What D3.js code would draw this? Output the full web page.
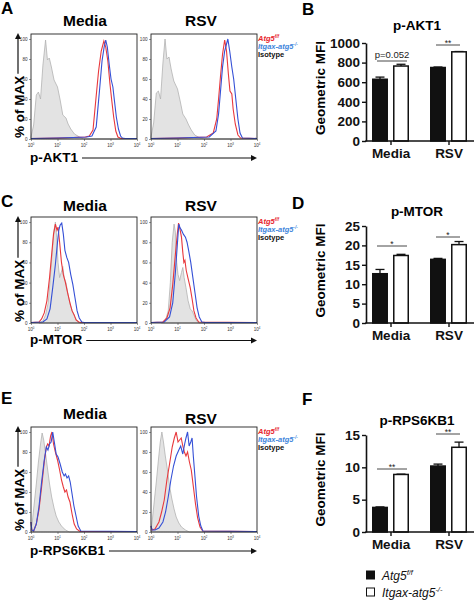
<!DOCTYPE html>
<html><head><meta charset="utf-8">
<script src="https://cdn.jsdelivr.net/npm/d3@7"></script>
<style>body{margin:0;background:#fff}svg{display:block;font-family:"Liberation Sans",Arial,Helvetica,sans-serif}</style>
</head><body><svg id="c" width="474" height="601"></svg>
<script>
// ---------- DATA ----------
const groups = ["Media", "RSV"];
const genotypes = ["Atg5f/f", "Itgax-atg5-/-"];
const pctTicks = [0, 20, 40, 60, 80, 100];
const decadeTicks = [0, 1, 2, 3, 4];

// histogram curves: [log10 intensity, % of max]
const aktMediaIso = [[0,2],[0.1,14],[0.2,44],[0.28,47],[0.36,40],[0.45,74],[0.55,99],[0.62,79],[0.69,81],[0.77,72],[0.87,59],[1.0,52],[1.1,39],[1.2,24],[1.32,21],[1.4,15],[1.5,10],[1.64,5],[1.83,2],[1.98,0],[4,0]];
const aktMediaAtg5 = [[0,0.5],[1.0,1],[1.6,1.5],[2.05,2],[2.2,3],[2.34,9],[2.46,43],[2.55,68],[2.65,88],[2.75,98],[2.82,92],[2.9,78],[2.98,55],[3.05,38],[3.12,22],[3.2,8],[3.28,2],[3.4,0.5],[4,0.5]];
const aktMediaItgax = [[0,0.5],[1.0,1],[1.6,1.5],[2.1,2],[2.3,3],[2.46,12],[2.59,50],[2.68,78],[2.76,92],[2.82,99],[2.88,92],[2.95,75],[3.02,60],[3.09,52],[3.15,38],[3.22,22],[3.3,10],[3.38,3],[3.45,1],[3.55,0.5],[4,0.5]];
const aktRsvIso = [[0,2],[0.1,16],[0.2,46],[0.28,48],[0.36,40],[0.45,76],[0.53,100],[0.6,80],[0.68,82],[0.76,70],[0.86,58],[1.0,50],[1.1,38],[1.2,25],[1.32,20],[1.42,14],[1.52,9],[1.65,4],[1.85,1],[2.0,0],[4,0]];
const aktRsvAtg5 = [[0,0.5],[1.0,1],[1.6,1.5],[2.1,2],[2.35,6],[2.48,20],[2.55,40],[2.62,62],[2.7,85],[2.78,99],[2.85,88],[2.92,65],[2.98,48],[3.05,45],[3.1,30],[3.18,15],[3.28,4],[3.38,1],[4,0.5]];
const aktRsvItgax = [[0,0.5],[1.0,1],[1.6,1.5],[2.2,2],[2.45,8],[2.55,25],[2.63,50],[2.7,72],[2.78,88],[2.85,95],[2.9,100],[2.97,88],[3.05,72],[3.12,60],[3.2,40],[3.28,20],[3.36,6],[3.45,1],[4,0.5]];

const mtorMediaIso = [[0.3,0],[0.45,2],[0.55,8],[0.65,20],[0.72,42],[0.8,70],[0.87,92],[0.92,100],[0.97,85],[1.02,60],[1.08,45],[1.14,50],[1.2,56],[1.25,45],[1.32,40],[1.4,28],[1.48,18],[1.56,12],[1.65,6],[1.75,2],[1.85,0],[4,0]];
const mtorMediaAtg5 = [[0,0.5],[0.3,1],[0.4,4],[0.5,10],[0.6,22],[0.7,45],[0.78,68],[0.85,88],[0.92,98],[0.98,92],[1.02,95],[1.08,80],[1.15,60],[1.22,48],[1.3,40],[1.38,30],[1.47,20],[1.55,12],[1.63,8],[1.7,3],[1.8,1],[1.9,0.5],[4,0.5]];
const mtorMediaItgax = [[0,0.5],[0.45,1],[0.6,4],[0.72,14],[0.82,35],[0.92,58],[1.0,80],[1.05,92],[1.1,97],[1.16,99],[1.22,88],[1.28,72],[1.35,65],[1.42,60],[1.5,48],[1.58,38],[1.66,25],[1.74,12],[1.82,5],[1.92,1],[2.0,0.5],[4,0.5]];
const mtorRsvIso = [[0.4,0],[0.55,3],[0.65,12],[0.73,40],[0.8,80],[0.87,98],[0.92,90],[0.97,60],[1.02,48],[1.08,42],[1.15,50],[1.2,55],[1.25,45],[1.32,35],[1.4,22],[1.48,14],[1.55,12],[1.62,8],[1.7,3],[1.8,0],[4,0]];
const mtorRsvAtg5 = [[0,0.5],[0.45,1],[0.6,5],[0.72,15],[0.82,38],[0.92,68],[1.0,90],[1.04,99],[1.1,92],[1.15,85],[1.2,70],[1.24,60],[1.28,62],[1.33,52],[1.4,44],[1.48,35],[1.55,24],[1.62,12],[1.7,5],[1.8,1],[4,0.5]];
const mtorRsvItgax = [[0,0.5],[0.5,1],[0.7,6],[0.82,20],[0.92,50],[1.0,80],[1.05,98],[1.1,94],[1.15,92],[1.22,88],[1.3,85],[1.36,80],[1.42,72],[1.5,60],[1.58,45],[1.66,30],[1.74,15],[1.82,6],[1.92,1],[2.05,0.5],[4,0.5]];

const rpsMediaIso = [[0,2],[0.05,10],[0.12,28],[0.2,48],[0.28,70],[0.36,88],[0.42,99],[0.48,92],[0.55,78],[0.62,64],[0.7,48],[0.78,35],[0.87,24],[0.95,16],[1.05,10],[1.15,6],[1.3,2],[1.45,0],[4,0]];
const rpsMediaAtg5 = [[0,10],[0.03,2],[0.1,1],[0.2,8],[0.3,22],[0.4,45],[0.5,70],[0.58,85],[0.63,88],[0.68,86],[0.74,96],[0.79,100],[0.85,88],[0.92,80],[1.0,72],[1.08,62],[1.15,52],[1.22,45],[1.28,40],[1.34,42],[1.4,35],[1.47,30],[1.55,18],[1.63,8],[1.72,3],[1.85,0.5],[4,0.5]];
const rpsMediaItgax = [[0,10],[0.03,2],[0.1,1],[0.2,8],[0.3,25],[0.4,50],[0.5,72],[0.58,85],[0.64,82],[0.7,88],[0.76,90],[0.82,100],[0.88,90],[0.95,78],[1.02,75],[1.1,68],[1.18,60],[1.25,56],[1.3,58],[1.36,54],[1.42,56],[1.48,50],[1.55,38],[1.62,26],[1.7,16],[1.78,6],[1.88,1],[4,0.5]];
const rpsRsvIso = [[0,2],[0.05,12],[0.12,30],[0.2,50],[0.28,72],[0.35,90],[0.41,100],[0.47,90],[0.54,76],[0.62,62],[0.7,46],[0.78,34],[0.87,23],[0.95,15],[1.05,9],[1.15,5],[1.3,2],[1.45,0],[4,0]];
const rpsRsvAtg5 = [[0,6],[0.04,2],[0.15,3],[0.3,10],[0.4,20],[0.5,32],[0.6,52],[0.7,68],[0.8,85],[0.88,94],[0.95,100],[1.02,90],[1.08,92],[1.14,94],[1.2,86],[1.26,80],[1.32,76],[1.38,80],[1.45,70],[1.52,62],[1.6,45],[1.68,28],[1.76,14],[1.85,5],[1.95,1],[4,0.5]];
const rpsRsvItgax = [[0,6],[0.04,2],[0.15,2],[0.3,4],[0.45,10],[0.55,20],[0.65,35],[0.75,52],[0.85,66],[0.95,76],[1.05,82],[1.12,86],[1.2,78],[1.27,88],[1.32,94],[1.38,100],[1.44,86],[1.5,90],[1.55,94],[1.6,75],[1.66,55],[1.72,35],[1.8,16],[1.88,6],[1.96,1],[4,0.5]];

// bar charts: values per group [Media, RSV]
const aktAtg5 = [630, 750], aktAtg5Err = [22, 5];
const aktItgax = [765, 910], aktItgaxErr = [18, 3];
const aktTicks = [0, 200, 400, 600, 800, 1000];
const mtorAtg5 = [12.7, 16.4], mtorAtg5Err = [1.1, 0.25];
const mtorItgax = [17.4, 20.2], mtorItgaxErr = [0.3, 0.8];
const mtorTicks = [0, 5, 10, 15, 20, 25];
const rpsAtg5 = [3.8, 10.2], rpsAtg5Err = [0.08, 0.3];
const rpsItgax = [8.9, 13.1], rpsItgaxErr = [0.05, 0.8];
const rpsTicks = [0, 5, 10, 15];
const aktSig = ["p=0.052", "**"];
const mtorSig = ["*", "*"];
const rpsSig = ["**", "**"];

// ---------- DRAW ----------
const svg = d3.select("#c");
const RED = "#e8383c", BLUE = "#3550d6", LRED = "#e8262c", LBLUE = "#3f86dc";

function letter(t, x, y) {
  svg.append("text").attr("x", x).attr("y", y).attr("font-size", 17).attr("font-weight", "bold").text(t);
}

function supText(sel, base, sup, fs) {
  sel.append("tspan").text(base);
  sel.append("tspan").attr("dy", -fs * 0.38).attr("font-size", fs * 0.62).text(sup);
}

function hist(bx, top, bottom, curves) {
  const x = d3.scaleLog().domain([1, 1e4]).range([bx, bx + 106]);
  const y = d3.scaleLinear().domain([0, 105]).range([bottom, top]);
  const g = svg.append("g");
  const px = d => x(Math.pow(10, d[0]));
  g.append("path").datum(curves[0])
    .attr("d", d3.area().x(px).y0(y(0)).y1(d => y(d[1])))
    .attr("fill", "#e3e3e3").attr("stroke", "#b3b3b3").attr("stroke-width", 0.8);
  const line = d3.line().x(px).y(d => y(d[1]));
  g.append("path").datum(curves[1]).attr("d", line).attr("fill", "none").attr("stroke", RED).attr("stroke-width", 1.1);
  g.append("path").datum(curves[2]).attr("d", line).attr("fill", "none").attr("stroke", BLUE).attr("stroke-width", 1.1);
  g.append("rect").attr("x", bx).attr("y", top).attr("width", 106).attr("height", bottom - top)
    .attr("fill", "none").attr("stroke", "#222").attr("stroke-width", 0.9);
  const ya = g.append("g").attr("transform", `translate(${bx},0)`)
    .call(d3.axisLeft(y).tickValues(pctTicks).tickSize(2).tickPadding(1.5));
  ya.select(".domain").remove();
  ya.selectAll("text").attr("font-size", 4.6).attr("fill", "#333");
  ya.selectAll("line").attr("stroke", "#333").attr("stroke-width", 0.5);
  const xa = g.append("g").attr("transform", `translate(0,${bottom})`)
    .call(d3.axisBottom(x).tickValues(decadeTicks.map(k => Math.pow(10, k))).tickSize(2).tickFormat(""));
  xa.select(".domain").remove();
  xa.selectAll("line").attr("stroke", "#333").attr("stroke-width", 0.5);
  decadeTicks.forEach(k => {
    const t = g.append("text").attr("x", x(Math.pow(10, k))).attr("y", bottom + 8)
      .attr("text-anchor", "middle").attr("font-size", 4.6).attr("fill", "#333");
    supText(t, "10", String(k), 4.6);
  });
}

function arrowHead(x, y, dir) {
  const p = dir === "up" ? `M${x-3},${y+6}L${x},${y}L${x+3},${y+6}Z` : `M${x-6},${y-3}L${x},${y}L${x-6},${y+3}Z`;
  svg.append("path").attr("d", p).attr("fill", "#111");
}

function histRow(r) {
  letter(r.letter, 1, r.letterY);
  svg.append("text").attr("x", 85).attr("y", r.titleY).attr("text-anchor", "middle")
    .attr("font-size", 15.5).attr("font-weight", "bold").text(groups[0]);
  svg.append("text").attr("x", 201).attr("y", r.titleY2).attr("text-anchor", "middle")
    .attr("font-size", 15.5).attr("font-weight", "bold").text(groups[1]);
  hist(31, r.top, r.bottom, r.media);
  hist(151, r.top, r.bottom, r.rsv);
  // y label with arrow
  const t = svg.append("text").attr("transform", `translate(23.5,${r.bottom - 1}) rotate(-90)`)
    .attr("font-size", 13.5).attr("font-weight", "bold").text("% of MAX");
  const len = t.node().getComputedTextLength();
  svg.append("line").attr("x1", 18).attr("x2", 18).attr("y1", r.bottom - len - 3).attr("y2", r.top + 3)
    .attr("stroke", "#111").attr("stroke-width", 1.2);
  arrowHead(18, r.top - 1, "up");
  // x label with arrow
  const xl = svg.append("text").attr("x", 30).attr("y", r.labelY).attr("font-size", 13.5)
    .attr("font-weight", "bold").text(r.label);
  const xlen = xl.node().getComputedTextLength();
  svg.append("line").attr("x1", 30 + xlen + 4).attr("x2", 252).attr("y1", r.lineY).attr("y2", r.lineY)
    .attr("stroke", "#111").attr("stroke-width", 1.2);
  arrowHead(257, r.lineY, "right");
  // legend
  const lx = 258;
  const l1 = svg.append("text").attr("x", lx).attr("y", r.top + 7).attr("font-size", 7.5)
    .attr("font-weight", "bold").attr("font-style", "italic").attr("fill", LRED);
  supText(l1, "Atg5", "f/f", 7.5);
  const l2 = svg.append("text").attr("x", lx).attr("y", r.top + 15).attr("font-size", 7.5)
    .attr("font-weight", "bold").attr("font-style", "italic").attr("fill", LBLUE);
  supText(l2, "Itgax-atg5", "-/-", 7.5);
  svg.append("text").attr("x", lx).attr("y", r.top + 23).attr("font-size", 7.5)
    .attr("font-weight", "bold").attr("fill", "#111").text("Isotype");
}

histRow({letter: "A", letterY: 14, titleY: 26, titleY2: 26, top: 34, bottom: 139, label: "p-AKT1", labelY: 162, lineY: 158,
  media: [aktMediaIso, aktMediaAtg5, aktMediaItgax], rsv: [aktRsvIso, aktRsvAtg5, aktRsvItgax]});
histRow({letter: "C", letterY: 207, titleY: 211, titleY2: 211, top: 217, bottom: 323, label: "p-MTOR", labelY: 344, lineY: 340.5,
  media: [mtorMediaIso, mtorMediaAtg5, mtorMediaItgax], rsv: [mtorRsvIso, mtorRsvAtg5, mtorRsvItgax]});
histRow({letter: "E", letterY: 404, titleY: 419, titleY2: 424, top: 427, bottom: 532, label: "p-RPS6KB1", labelY: 555, lineY: 551,
  media: [rpsMediaIso, rpsMediaAtg5, rpsMediaItgax], rsv: [rpsRsvIso, rpsRsvAtg5, rpsRsvItgax]});

function barPanel(p) {
  letter(p.letter, p.letterX, p.letterY);
  svg.append("text").attr("x", 417).attr("y", p.titleY).attr("text-anchor", "middle")
    .attr("font-size", 13.5).attr("font-weight", "bold").text(p.title);
  const ax = 366;
  const y = d3.scaleLinear().domain([0, d3.max(p.ticks)]).range([p.y0, p.y1]);
  const gx = d3.scalePoint().domain(groups).range([390.5, 448.5]);
  const inner = d3.scaleBand().domain(genotypes).range([-18.5, 18.5]).paddingInner(0.24);
  const bw = inner.bandwidth();
  const vals = [p.atg5, p.itgax], errs = [p.atg5Err, p.itgaxErr];
  const g = svg.append("g");
  groups.forEach((grp, i) => {
    genotypes.forEach((gt, j) => {
      const bx = gx(grp) + inner(gt);
      const v = vals[j][i], e = errs[j][i];
      const cx = bx + bw / 2;
      g.append("line").attr("x1", cx).attr("x2", cx).attr("y1", y(v)).attr("y2", y(v + e))
        .attr("stroke", "#111").attr("stroke-width", 1.3);
      g.append("line").attr("x1", cx - 4.5).attr("x2", cx + 4.5).attr("y1", y(v + e)).attr("y2", y(v + e))
        .attr("stroke", "#111").attr("stroke-width", 1.3);
      g.append("rect").attr("x", bx + 0.75).attr("y", y(v)).attr("width", bw - 1.5).attr("height", y(0) - y(v))
        .attr("fill", j === 0 ? "#111" : "#fff").attr("stroke", "#111").attr("stroke-width", 1.5);
    });
    // significance
    const c = gx(grp);
    const sy = p.sigY[i];
    const x1 = i === 0 ? c - 13.5 : c - 12.5, x2 = i === 0 ? c + 16.5 : c + 11.5;
    g.append("line").attr("x1", x1).attr("x2", x2).attr("y1", sy).attr("y2", sy).attr("stroke", "#333").attr("stroke-width", 0.9);
    const s = p.sig[i];
    g.append("text").attr("x", (x1 + x2) / 2).attr("y", s.startsWith("p") ? sy - 3 : sy + 0.8)
      .attr("text-anchor", "middle").attr("font-size", s.startsWith("p") ? 9.5 : 8.5).attr("fill", "#222").text(s);
  });
  const ya = g.append("g").attr("transform", `translate(${ax},0)`)
    .call(d3.axisLeft(y).tickValues(p.ticks).tickFormat(d3.format("d")).tickSize(4).tickPadding(2).tickSizeOuter(0));
  ya.select(".domain").attr("stroke", "#111").attr("stroke-width", 1.6);
  ya.selectAll("line").attr("stroke", "#111").attr("stroke-width", 1.4);
  ya.selectAll("text").attr("font-size", 13.5).attr("font-weight", "bold").attr("fill", "#111");
  g.append("line").attr("x1", ax - 0.8).attr("x2", 474).attr("y1", p.y0).attr("y2", p.y0)
    .attr("stroke", "#111").attr("stroke-width", 1.6);
  const xa = g.append("g").attr("transform", `translate(0,${p.y0})`)
    .call(d3.axisBottom(gx).tickSize(4).tickPadding(3));
  xa.select(".domain").remove();
  xa.selectAll("line").attr("stroke", "#111").attr("stroke-width", 1.4);
  xa.selectAll("text").attr("font-size", 13.5).attr("font-weight", "bold").attr("fill", "#111");
  const midY = (p.y0 + p.y1) / 2 - 4;
  svg.append("text").attr("transform", `translate(325,${midY}) rotate(-90)`).attr("text-anchor", "middle")
    .attr("font-size", 13.5).attr("font-weight", "bold").text("Geometric MFI");
}

barPanel({letter: "B", letterX: 302, letterY: 15, title: "p-AKT1", titleY: 30, y0: 141, y1: 43, ticks: aktTicks,
  atg5: aktAtg5, atg5Err: aktAtg5Err, itgax: aktItgax, itgaxErr: aktItgaxErr, sig: aktSig, sigY: [61, 45]});
barPanel({letter: "D", letterX: 292, letterY: 209, title: "p-MTOR", titleY: 216, y0: 323, y1: 226, ticks: mtorTicks,
  atg5: mtorAtg5, atg5Err: mtorAtg5Err, itgax: mtorItgax, itgaxErr: mtorItgaxErr, sig: mtorSig, sigY: [246, 237]});
barPanel({letter: "F", letterX: 302, letterY: 405, title: "p-RPS6KB1", titleY: 424.5, y0: 532, y1: 435, ticks: rpsTicks,
  atg5: rpsAtg5, atg5Err: rpsAtg5Err, itgax: rpsItgax, itgaxErr: rpsItgaxErr, sig: rpsSig, sigY: [469, 434]});

// bottom legend
const leg = svg.append("g");
genotypes.forEach((gt, j) => {
  const yy = 571 + j * 17;
  leg.append("rect").attr("x", 366.5).attr("y", yy).attr("width", 8).attr("height", 8)
    .attr("fill", j === 0 ? "#111" : "#fff").attr("stroke", "#111").attr("stroke-width", 1);
  const t = leg.append("text").attr("x", 382).attr("y", yy + 8.5).attr("font-size", 12).attr("font-style", "italic").attr("fill", "#111");
  if (j === 0) supText(t, "Atg5", "f/f", 12); else supText(t, "Itgax-atg5", "-/-", 12);
});
</script></body></html>
